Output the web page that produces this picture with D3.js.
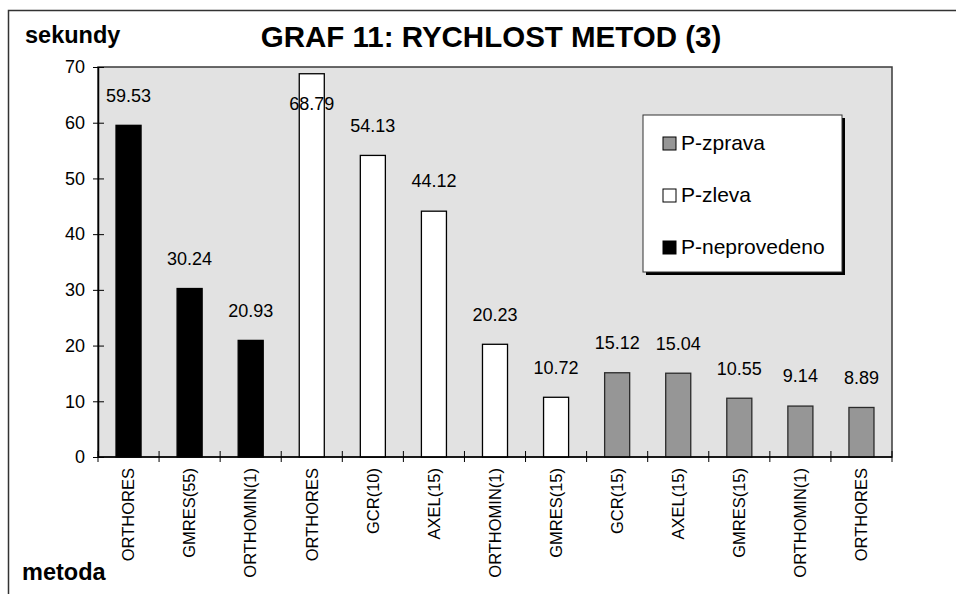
<!DOCTYPE html>
<html>
<head>
<meta charset="utf-8">
<script src="https://cdn.jsdelivr.net/npm/d3@7"></script>
<style>
  body { margin: 0; background: #fff; }
  text { font-family: 'Liberation Sans', Arial, sans-serif; fill: #000; }
</style>
</head>
<body>
<div class="draw-section"></div>
<script>
// methods on the x axis (same names repeat in different groups)
const methods = [
  'ORTHORES', 'GMRES(55)', 'ORTHOMIN(1)',
  'ORTHORES', 'GCR(10)', 'AXEL(15)', 'ORTHOMIN(1)', 'GMRES(15)',
  'GCR(15)', 'AXEL(15)', 'GMRES(15)', 'ORTHOMIN(1)', 'ORTHORES'
];
const seconds = [
  59.53, 30.24, 20.93,
  68.79, 54.13, 44.12, 20.23, 10.72,
  15.12, 15.04, 10.55, 9.14, 8.89
];
const groups = [
  'P-neprovedeno', 'P-neprovedeno', 'P-neprovedeno',
  'P-zleva', 'P-zleva', 'P-zleva', 'P-zleva', 'P-zleva',
  'P-zprava', 'P-zprava', 'P-zprava', 'P-zprava', 'P-zprava'
];
const legendOrder = ['P-zprava', 'P-zleva', 'P-neprovedeno'];
const yTicks = [0, 10, 20, 30, 40, 50, 60, 70];

const W = 956, H = 594;
const margin = { top: 67, right: 64, bottom: 137, left: 98 };
const plotW = W - margin.left - margin.right;
const plotH = H - margin.top - margin.bottom;

const fills = { 'P-zprava': '#969696', 'P-zleva': '#ffffff', 'P-neprovedeno': '#000000' };
const strokes = { 'P-zprava': '#2b2b2b', 'P-zleva': '#000000', 'P-neprovedeno': '#000000' };

let data = methods.map((m, i) => ({ i: i, name: m, value: seconds[i], group: groups[i] }));

let svg = d3.select('.draw-section')
  .append('svg')
  .attr('width', W)
  .attr('height', H);

// outer chart frame (only top and left edges are visible)
svg.append('path')
  .attr('d', `M8.5,${H} V10.5 H${W}`)
  .attr('fill', 'none')
  .attr('stroke', '#333')
  .attr('stroke-width', 1.5);

svg.append('text')
  .attr('x', 491)
  .attr('y', 47)
  .attr('text-anchor', 'middle')
  .style('font-size', '29.5px')
  .style('font-weight', 'bold')
  .text('GRAF 11: RYCHLOST METOD (3)');

svg.append('text')
  .attr('x', 25)
  .attr('y', 43)
  .style('font-size', '23.5px')
  .style('font-weight', 'bold')
  .text('sekundy');

svg.append('text')
  .attr('x', 22)
  .attr('y', 580)
  .style('font-size', '23.5px')
  .style('font-weight', 'bold')
  .text('metoda');

let g = svg.append('g')
  .attr('transform', `translate(${margin.left},${margin.top})`);

let x = d3.scaleBand()
  .domain(data.map(d => d.i))
  .range([0, plotW])
  .paddingInner(0)
  .paddingOuter(0);

let y = d3.scaleLinear()
  .domain([0, 70])
  .range([plotH, 0]);

// plot area
g.append('rect')
  .attr('x', 0)
  .attr('y', 0)
  .attr('width', plotW)
  .attr('height', plotH)
  .attr('fill', '#e2e2e2')
  .attr('stroke', '#3a3a3a')
  .attr('stroke-width', 1.5);

const barW = x.bandwidth() * 0.41;

g.selectAll('rect.bar')
  .data(data)
  .enter()
  .append('rect')
  .attr('class', 'bar')
  .attr('x', d => x(d.i) + (x.bandwidth() - barW) / 2)
  .attr('y', d => y(d.value))
  .attr('width', barW)
  .attr('height', d => y(0) - y(d.value))
  .attr('fill', d => fills[d.group])
  .attr('stroke', d => strokes[d.group])
  .attr('stroke-width', 1.3);

// value labels: above the bar, or inside its end when there is no room
g.selectAll('text.val')
  .data(data)
  .enter()
  .append('text')
  .attr('class', 'val')
  .attr('x', d => x(d.i) + x.bandwidth() / 2)
  .attr('y', d => {
    let top = y(d.value);
    return top - 40 < 0 ? top + 30 : top - 30;
  })
  .attr('dy', '0.35em')
  .attr('text-anchor', 'middle')
  .style('font-size', '18px')
  .text(d => d.value.toFixed(2));

// y axis
let yAxis = d3.axisLeft(y)
  .tickValues(yTicks)
  .tickSizeInner(5)
  .tickSizeOuter(0)
  .tickPadding(8);

let drawnY = g.append('g').call(yAxis);
drawnY.select('.domain').attr('stroke', '#000').attr('stroke-width', 1.5);
drawnY.selectAll('.tick line')
  .attr('x1', -5)
  .attr('x2', 6)
  .attr('stroke', '#000');
drawnY.selectAll('.tick text')
  .style('font-size', '18px')
  .style('font-family', "'Liberation Sans', Arial, sans-serif");

// x axis: ticks on band boundaries
let bounds = data.map(d => x(d.i)).concat([plotW]);
let drawnX = g.append('g').attr('transform', `translate(0,${plotH})`);
drawnX.append('line')
  .attr('x1', 0)
  .attr('x2', plotW)
  .attr('stroke', '#000')
  .attr('stroke-width', 1.5);
drawnX.selectAll('line.tk')
  .data(bounds)
  .enter()
  .append('line')
  .attr('class', 'tk')
  .attr('x1', d => d)
  .attr('x2', d => d)
  .attr('y1', -6)
  .attr('y2', 5)
  .attr('stroke', '#000');

drawnX.selectAll('text')
  .data(data)
  .enter()
  .append('text')
  .attr('transform', d => `translate(${x(d.i) + x.bandwidth() / 2},11) rotate(-90)`)
  .attr('dy', '0.35em')
  .attr('text-anchor', 'end')
  .style('font-size', '16.5px')
  .text(d => d.name);

// legend
let legend = svg.append('g').attr('transform', 'translate(643,115)');
legend.append('rect')
  .attr('x', 3)
  .attr('y', 3)
  .attr('width', 199)
  .attr('height', 157)
  .attr('fill', '#000');
legend.append('rect')
  .attr('width', 199)
  .attr('height', 157)
  .attr('fill', '#fff')
  .attr('stroke', '#333')
  .attr('stroke-width', 1);

let items = legend.selectAll('g.item')
  .data(legendOrder)
  .enter()
  .append('g')
  .attr('class', 'item')
  .attr('transform', (d, i) => `translate(20,${35 + i * 52})`);
items.append('rect')
  .attr('x', 0)
  .attr('y', -13)
  .attr('width', 13)
  .attr('height', 13)
  .attr('fill', d => fills[d])
  .attr('stroke', '#000')
  .attr('stroke-width', 1);
items.append('text')
  .attr('x', 18)
  .attr('y', 0)
  .style('font-size', '21px')
  .text(d => d);
</script>
</body>
</html>
